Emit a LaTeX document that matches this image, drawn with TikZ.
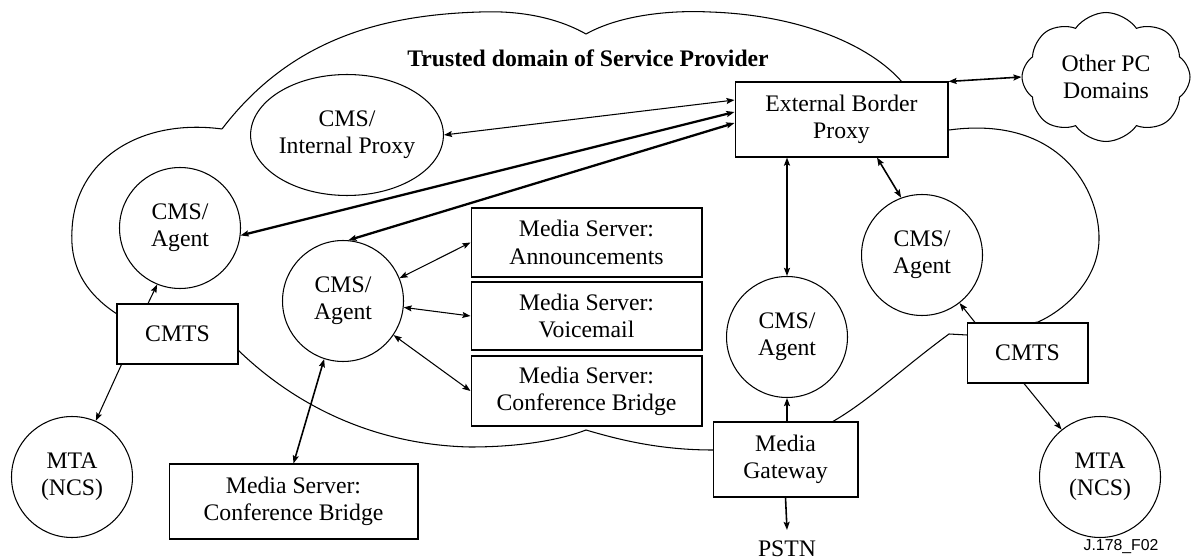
\documentclass[tikz,border=0pt]{standalone}
\usepackage{fontspec}
\setmainfont{Liberation Serif}
\setsansfont{Liberation Sans}
\usetikzlibrary{arrows.meta,shapes.geometric,shapes.symbols}

\begin{document}
\begin{tikzpicture}[x=0.02cm,y=-0.02cm,>={Stealth[length=4.6pt,width=3.4pt,inset=0.8pt]},line width=0.6pt,
  font=\fontsize{13.5}{15.5}\selectfont,
  main node/.style={circle,draw,fill=white,minimum size=2.42cm,inner sep=0pt,align=center},
  box node/.style={rectangle,draw,fill=white,inner sep=0pt,align=center},
  heavy/.style={line width=1.3pt},
  medium/.style={line width=0.9pt}]
\useasboundingbox (0,0) rectangle (1192,560);

% trusted domain outline
\draw (222,129) .. controls (290,40) and (380,15) .. (480,12)
  .. controls (530,10) and (565,22) .. (586,34)
  .. controls (620,15) and (670,10) .. (710,12)
  .. controls (800,15) and (870,45) .. (902,82)
  -- (949,130)
  .. controls (1060,115) and (1100,190) .. (1099,240)
  .. controls (1098,280) and (1065,310) .. (1038,322)
  -- (967,335) -- (949,334)
  .. controls (900,370) and (870,400) .. (832,422)
  -- (713,450)
  .. controls (660,450) and (620,440) .. (586,430)
  .. controls (560,440) and (520,447) .. (470,447)
  .. controls (380,445) and (300,410) .. (238,350)
  -- (117,314)
  .. controls (80,290) and (70,260) .. (72,230)
  .. controls (75,160) and (140,118) .. (222,129);

  \node[font=\fontsize{13.5}{15.5}\selectfont\bfseries] (title) at (588,58) {Trusted domain of Service Provider};

% proxies
  \node[ellipse,draw,fill=white,minimum width=3.62cm,minimum height=2.42cm,inner sep=0pt,align=center] (proxy) at (347,135) {CMS/\\Internal Proxy};
  \node[box node,minimum width=4.26cm,minimum height=1.5cm] (ebp) at (841.5,119.5) {External Border\\Proxy};
  \node[cloud,draw,fill=white,cloud puffs=8,cloud puff arc=110,cloud ignores aspect,minimum width=3.36cm,minimum height=2.58cm,inner sep=0pt,align=center] (other) at (1106,77) {Other PC\\Domains};

% call agents
  \node[main node] (agentL) at (180,228) {CMS/\\Agent};
  \node[main node] (agentM) at (343,301) {CMS/\\Agent};
  \node[main node] (agentB) at (787,337) {CMS/\\Agent};
  \node[main node] (agentR) at (922,255) {CMS/\\Agent};

% media servers
  \node[box node,minimum width=4.62cm,minimum height=1.38cm] (ann) at (586.5,242.5) {Media Server:\\Announcements};
  \node[box node,minimum width=4.62cm,minimum height=1.36cm] (vm) at (586.5,316) {Media Server:\\Voicemail};
  \node[box node,minimum width=4.62cm,minimum height=1.4cm] (cbR) at (586.5,391) {Media Server:\\Conference Bridge};
  \node[box node,minimum width=4.98cm,minimum height=1.5cm] (cbB) at (293.5,501.5) {Media Server:\\Conference Bridge};

% access side
  \node[box node,minimum width=2.42cm,minimum height=1.2cm] (cmtsL) at (177.5,334) {CMTS};
  \node[box node,minimum width=2.42cm,minimum height=1.2cm] (cmtsR) at (1027.5,353) {CMTS};
  \node[main node] (mtaL) at (72,477) {MTA\\(NCS)};
  \node[main node] (mtaR) at (1100,477) {MTA\\(NCS)};
  \node[box node,minimum width=2.9cm,minimum height=1.5cm] (mg) at (785.5,459.5) {Media\\Gateway};
  \node[inner xsep=0pt,inner ysep=6pt] (pstn) at (787,549) {PSTN};

  \node[font=\sffamily\fontsize{9}{10}\selectfont] (fig) at (1121,547) {J.178\_F02};

% signalling links
  \path[<->]
    (proxy.east) edge ([yshift=0.39cm]ebp.west)
    (agentM.22) edge (ann.west)
    (agentM.-6) edge (vm.west)
    (agentM.-34) edge (cbR.west);
  \path[<->,heavy]
    (agentL.-7) edge ([yshift=0.15cm]ebp.west)
    (agentM.85) edge ([yshift=-0.07cm]ebp.west)
    (agentB.north |- ebp.south) edge (agentB.north);
  \path[<->,medium]
    (agentM.-108) edge (cbB.north)
    ([xshift=0.71cm]ebp.south) edge (agentR.110)
    (ebp.north east) edge (other.west);
  \path[->]
    ([xshift=-0.59cm]cmtsL.north) edge (agentL.-112)
    ([xshift=0.1cm]cmtsL.south west) edge (mtaL.67)
    ([xshift=-1.05cm]cmtsR.north) edge (agentR.-52)
    ([xshift=-0.07cm]cmtsR.south) edge (mtaR.129);
  \path[->,medium]
    (agentB.south |- mg.north) edge (agentB.south)
    (mg.south) edge (pstn.north);

\end{tikzpicture}
\end{document}
